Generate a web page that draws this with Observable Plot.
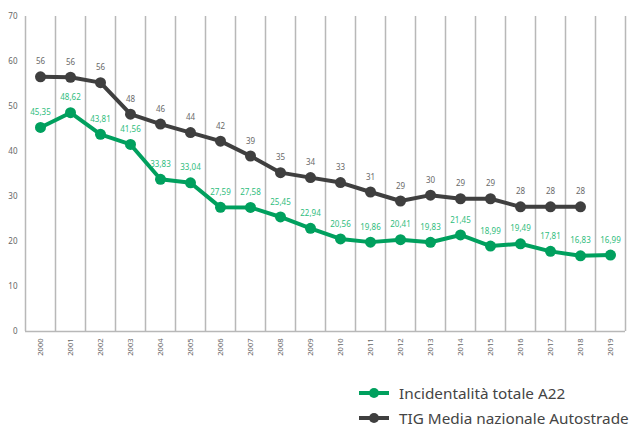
<!DOCTYPE html>
<html><head><meta charset="utf-8">
<script src="https://cdn.jsdelivr.net/npm/d3@7"></script>
<script src="https://cdn.jsdelivr.net/npm/@observablehq/plot@0.6"></script>
<style>
body{margin:0;background:#fff;font-family:"Noto Sans",sans-serif;}
#legend{position:absolute;left:358px;top:380px;font-size:15.3px;color:#444;}
.item{display:flex;align-items:center;height:25px;}
.item svg{margin-right:9px;}
</style></head>
<body><div id="chart"></div>
<div id="legend"></div>
<script>
const years = [2000,2001,2002,2003,2004,2005,2006,2007,2008,2009,2010,2011,2012,2013,2014,2015,2016,2017,2018,2019];
const a22 = [45.35,48.62,43.81,41.56,33.83,33.04,27.59,27.58,25.45,22.94,20.56,19.86,20.41,19.83,21.45,18.99,19.49,17.81,16.83,16.99];
const a22Labels = ["45,35","48,62","43,81","41,56","33,83","33,04","27,59","27,58","25,45","22,94","20,56","19,86","20,41","19,83","21,45","18,99","19,49","17,81","16,83","16,99"];
const tig = [56.6,56.5,55.3,48.3,46.1,44.2,42.3,39.0,35.3,34.2,33.1,31.0,29.0,30.3,29.5,29.5,27.7,27.7,27.7];
const tigLabels = ["56","56","56","48","46","44","42","39","35","34","33","31","29","30","29","29","28","28","28"];
const yTicks = [0,10,20,30,40,50,60,70];
const seriesNames = ["Incidentalità totale A22","TIG Media nazionale Autostrade"];
const colors = ["#00a05e","#3f3f3f"];
const labelColors = ["#2fbd7d","#6a6a6a"];

const dA = years.map((y,i)=>({year:y, v:a22[i], label:a22Labels[i]}));
const dT = tig.map((v,i)=>({year:years[i], v, label:tigLabels[i]}));
const bounds = d3.range(years.length+1).map(k=>years[0]-0.5+k);

const chart = Plot.plot({
  width:629, height:360,
  marginLeft:25, marginRight:4, marginTop:16, marginBottom:29,
  style:{fontFamily:"Noto Sans, sans-serif", background:"#fff"},
  x:{type:"linear", domain:[years[0]-0.5, years[years.length-1]+0.5], label:null},
  y:{domain:[0,70], label:null},
  marks:[
    Plot.ruleX(bounds,{stroke:"#b8b8b8", strokeWidth:1.5}),
    Plot.ruleY([0],{stroke:"#b8b8b8", strokeWidth:1.5}),
    Plot.axisY(yTicks,{tickSize:0, tickPadding:8, fontSize:8, fill:"#666", anchor:"left", label:null}),
    Plot.axisX(years,{tickSize:0, tickPadding:7, tickRotate:-90, fontSize:7.5, fill:"#666", tickFormat:d=>String(d), label:null}),
    Plot.line(dT,{x:"year", y:"v", stroke:colors[1], strokeWidth:4}),
    Plot.dot(dT,{x:"year", y:"v", r:5.5, fill:colors[1]}),
    Plot.text(dT,{x:"year", y:"v", text:"label", dy:-15, fontSize:8, fill:labelColors[1]}),
    Plot.line(dA,{x:"year", y:"v", stroke:colors[0], strokeWidth:4}),
    Plot.dot(dA,{x:"year", y:"v", r:5.5, fill:colors[0]}),
    Plot.text(dA,{x:"year", y:"v", text:"label", dy:-15, fontSize:8, fill:labelColors[0]})
  ]
});
document.getElementById("chart").appendChild(chart);

const lg = document.getElementById("legend");
seriesNames.forEach((n,i)=>{
  const it = document.createElement("div"); it.className="item";
  it.innerHTML = `<svg width="32" height="12"><line x1="1" y1="6" x2="31" y2="6" stroke="${colors[i]}" stroke-width="4"/><circle cx="16" cy="6" r="5" fill="${colors[i]}"/></svg><span>${n}</span>`;
  lg.appendChild(it);
});
</script></body></html>
